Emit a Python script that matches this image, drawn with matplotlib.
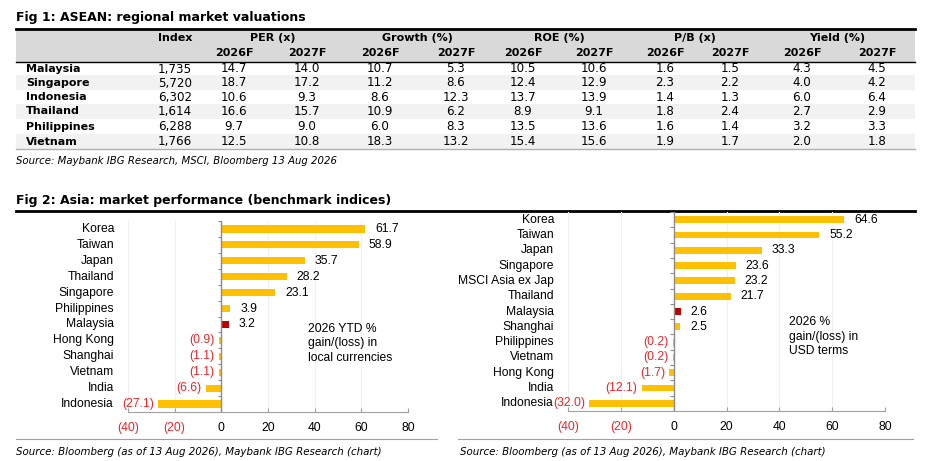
import numpy as np
import matplotlib
matplotlib.use("Agg")
import matplotlib.pyplot as plt
from matplotlib.patches import Rectangle

# ---- Fig 1 table data
tbl_countries = ["Malaysia", "Singapore", "Indonesia", "Thailand", "Philippines", "Vietnam"]
index_lvl = [1735, 5720, 6302, 1614, 6288, 1766]
per_26 = [14.7, 18.7, 10.6, 16.6, 9.7, 12.5]
per_27 = [14.0, 17.2, 9.3, 15.7, 9.0, 10.8]
gr_26 = [10.7, 11.2, 8.6, 10.9, 6.0, 18.3]
gr_27 = [5.3, 8.6, 12.3, 6.2, 8.3, 13.2]
roe_26 = [10.5, 12.4, 13.7, 8.9, 13.5, 15.4]
roe_27 = [10.6, 12.9, 13.9, 9.1, 13.6, 15.6]
pb_26 = [1.6, 2.3, 1.4, 1.8, 1.6, 1.9]
pb_27 = [1.5, 2.2, 1.3, 2.4, 1.4, 1.7]
yld_26 = [4.3, 4.0, 6.0, 2.7, 3.2, 2.0]
yld_27 = [4.5, 4.2, 6.4, 2.9, 3.3, 1.8]
groups = ["PER (x)", "Growth (%)", "ROE (%)", "P/B (x)", "Yield (%)"]
years = ["2026F", "2027F"]

# ---- Fig 2 bar data
local_mkts = ["Korea", "Taiwan", "Japan", "Thailand", "Singapore", "Philippines",
              "Malaysia", "Hong Kong", "Shanghai", "Vietnam", "India", "Indonesia"]
local_ret = [61.7, 58.9, 35.7, 28.2, 23.1, 3.9, 3.2, -0.9, -1.1, -1.1, -6.6, -27.1]
usd_mkts = ["Korea", "Taiwan", "Japan", "Singapore", "MSCI Asia ex Jap", "Thailand",
            "Malaysia", "Shanghai", "Philippines", "Vietnam", "Hong Kong", "India", "Indonesia"]
usd_ret = [64.6, 55.2, 33.3, 23.6, 23.2, 21.7, 2.6, 2.5, -0.2, -0.2, -1.7, -12.1, -32.0]

GOLD = "#FFC000"
DARKRED = "#C00000"
NEGRED = "#E8262B"
TBL_FONT = "DejaVu Sans"
CHART_FONT = ["Liberation Sans Narrow", "Liberation Sans", "DejaVu Sans"]
CFS = 8.7


def fmt(v):
    return f"({abs(v):.1f})" if v < 0 else f"{v:.1f}"


fig = plt.figure(figsize=(9.3, 4.61), dpi=100)
bg = fig.add_axes([0, 0, 1, 1])
bg.set_xlim(0, 930)
bg.set_ylim(461, 0)
bg.axis("off")

# ---------- table
bg.text(16, 17, "Fig 1: ASEAN: regional market valuations", fontsize=9,
        fontweight="bold", family=TBL_FONT, va="center")
bg.add_patch(Rectangle((16, 30), 899, 32, color="#D9D9D9", lw=0))
bg.plot([16, 915], [29.5, 29.5], color="black", lw=2)
bg.plot([16, 915], [62, 62], color="black", lw=1)

row_y = [69, 83, 97, 111, 126.5, 141.5]
for i, yy in enumerate(row_y):
    if i % 2 == 1:
        bg.add_patch(Rectangle((16, yy - 7.5), 899, 15, color="#F2F2F2", lw=0))
bg.plot([16, 915], [149, 149], color="#B0B0B0", lw=1)

cols = [per_26, per_27, gr_26, gr_27, roe_26, roe_27, pb_26, pb_27, yld_26, yld_27]
col_x = [234, 307, 380, 456, 523, 594, 665, 730, 802, 877]
grp_x = [273, 417, 559, 695, 837]
hdr = dict(fontsize=8, fontweight="bold", family=TBL_FONT, va="center")
bg.text(192, 38, "Index", ha="right", **hdr)
for g, gx in zip(groups, grp_x):
    bg.text(gx, 38, g, ha="center", **hdr)
for k, cx in enumerate(col_x):
    bg.text(cx, 53, years[k % 2], ha="center", **hdr)

for i, (c, yy) in enumerate(zip(tbl_countries, row_y)):
    bg.text(26, yy, c, fontsize=8, fontweight="bold", family=TBL_FONT, va="center")
    bg.text(192, yy, f"{index_lvl[i]:,}", fontsize=8.6, family=TBL_FONT, va="center", ha="right")
    for col, cx in zip(cols, col_x):
        bg.text(cx, yy, f"{col[i]:.1f}", fontsize=8.6, family=TBL_FONT, va="center", ha="center")

bg.text(16, 161, "Source: Maybank IBG Research, MSCI, Bloomberg 13 Aug 2026", fontsize=7.3,
        style="italic", family=TBL_FONT, va="center")

# ---------- fig 2 frame
bg.text(16, 200, "Fig 2: Asia: market performance (benchmark indices)", fontsize=9,
        fontweight="bold", family=TBL_FONT, va="center")
bg.plot([16, 915], [211, 211], color="black", lw=2)
bg.plot([16, 437], [439, 439], color="#A0A0A0", lw=0.8)
bg.plot([458, 913], [439, 439], color="#A0A0A0", lw=0.8)
src2 = "Source: Bloomberg (as of 13 Aug 2026), Maybank IBG Research (chart)"
bg.text(16, 452, src2, fontsize=7.35, style="italic", family=TBL_FONT, va="center")
bg.text(460, 452, src2, fontsize=7.35, style="italic", family=TBL_FONT, va="center")


def bar_panel(ax, names, vals, note, note_xy):
    y = np.arange(len(names))
    colors = [DARKRED if n == "Malaysia" else GOLD for n in names]
    ax.barh(y, vals, height=0.45, color=colors, zorder=3)
    ax.set_ylim(len(names) - 0.5, -0.5)
    ax.set_xlim(-40, 80)
    ticks = list(range(-40, 81, 20))
    ax.set_xticks(ticks)
    ax.set_xticklabels([f"({abs(t)})" if t < 0 else str(t) for t in ticks],
                       family=CHART_FONT, fontsize=CFS)
    for lab, t in zip(ax.get_xticklabels(), ticks):
        if t < 0:
            lab.set_color(NEGRED)
    ax.tick_params(axis="x", length=3, direction="in", color="#A0A0A0", pad=7)
    ax.set_yticks([])
    ax.grid(axis="x", color="#F0F0F0", lw=0.8, zorder=0)
    for s in ["top", "right", "left"]:
        ax.spines[s].set_visible(False)
    ax.spines["bottom"].set_color("#A0A0A0")
    ax.patch.set_alpha(0)
    ax.axvline(0, color="#8C8C8C", lw=1, zorder=4)
    ax.hlines(np.arange(len(names) + 1) - 0.5, -1.5, 0, color="#8C8C8C", lw=0.8, zorder=4)
    for i, (n, v) in enumerate(zip(names, vals)):
        ax.annotate(n, xy=(0, i), xycoords=("axes fraction", "data"), xytext=(-10, 0),
                    textcoords="offset points", ha="right", va="center",
                    family=CHART_FONT, fontsize=CFS, annotation_clip=False)
        if v >= 0:
            ax.annotate(fmt(v), xy=(v, i), xytext=(7, 0), textcoords="offset points",
                        ha="left", va="center", family=CHART_FONT, fontsize=CFS)
        else:
            ax.annotate(fmt(v), xy=(v, i), xytext=(-3, 0), textcoords="offset points",
                        ha="right", va="center", family=CHART_FONT, fontsize=CFS,
                        color=NEGRED, annotation_clip=False)
    ax.text(note_xy[0], note_xy[1], note, transform=ax.transAxes, va="top", ha="left",
            family=CHART_FONT, fontsize=CFS, linespacing=1.25)


ax1 = fig.add_axes([128 / 930, 1 - 412 / 461, 280 / 930, 191 / 461])
bar_panel(ax1, local_mkts, local_ret, "2026 YTD %\ngain/(loss) in\nlocal currencies", (0.643, 0.465))
ax2 = fig.add_axes([568 / 930, 1 - 411 / 461, 317 / 930, 199 / 461])
bar_panel(ax2, usd_mkts, usd_ret, "2026 %\ngain/(loss) in\nUSD terms", (0.697, 0.475))

fig.savefig("out.png", dpi=100)
